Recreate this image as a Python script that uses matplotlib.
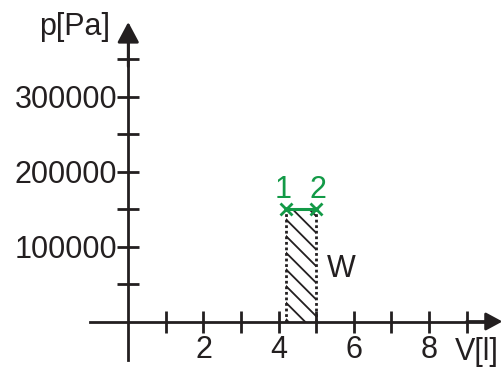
import matplotlib

matplotlib.use("Agg")

import matplotlib.pyplot as plt
from matplotlib.ticker import FixedFormatter, FixedLocator

# data
volume = [4.2, 5.0]  # V[l] of states 1 and 2
pressure = [150000, 150000]  # p[Pa]
state_labels = ["1", "2"]
x_ticks = [1, 2, 3, 4, 5, 6, 7, 8, 9]
x_tick_labels = ["", "2", "", "4", "", "6", "", "8", ""]
y_ticks = [50000, 100000, 150000, 200000, 250000, 300000, 350000]
y_tick_labels = ["", "100000", "", "200000", "", "300000", ""]

INK = "#231f20"
GREEN = "#139a47"
FS = 22

plt.rcParams["font.family"] = ["Liberation Sans", "DejaVu Sans"]
plt.rcParams["hatch.linewidth"] = 1.3

fig = plt.figure(figsize=(5.03, 3.71), dpi=100)
ax = fig.add_axes([0, 0, 1, 1])
ax.patch.set_visible(False)

# pixel-matched data window
ax.set_xlim(-3.41, 9.965)
ax.set_ylim(-66000, 428700)

for side in ("top", "right"):
    ax.spines[side].set_visible(False)
ax.spines["left"].set_position(("data", 0))
ax.spines["bottom"].set_position(("data", 0))
ax.spines["left"].set_bounds(-51300, 385000)
ax.spines["bottom"].set_bounds(-1.02, 9.6)
for side in ("left", "bottom"):
    ax.spines[side].set_linewidth(2.0)
    ax.spines[side].set_color(INK)

ax.xaxis.set_major_locator(FixedLocator(x_ticks))
ax.xaxis.set_major_formatter(FixedFormatter(x_tick_labels))
ax.yaxis.set_major_locator(FixedLocator(y_ticks))
ax.yaxis.set_major_formatter(FixedFormatter(y_tick_labels))
ax.tick_params(axis="both", direction="inout", length=16, width=2.0,
               colors=INK, labelsize=FS)
ax.tick_params(axis="x", pad=2)
ax.tick_params(axis="y", pad=0)

# arrow heads
arrow = dict(arrowstyle="-|>,head_length=0.5,head_width=0.27",
             color=INK, lw=2.0, mutation_scale=20, shrinkA=0, shrinkB=0)
ax.annotate("", xy=(9.95, 0), xytext=(9.0, 0), arrowprops=arrow)
arrow_y = dict(arrow, arrowstyle="-|>,head_length=0.62,head_width=0.33")
ax.annotate("", xy=(0, 399300), xytext=(0, 340000), arrowprops=arrow_y)

# work area under the isobaric process
ax.fill_between(volume, 0, pressure, facecolor="none", edgecolor=INK,
                hatch="\\\\", linewidth=0)
ax.vlines(volume, 0, pressure, colors=INK, linestyles=(0, (1, 1)), linewidth=2.0)
ax.plot(volume, pressure, color=GREEN, lw=2.2, marker="x", ms=8, mew=2.0)

for v, p, lab, dx in zip(volume, pressure, state_labels, [-2, 1]):
    ax.annotate(lab, (v, p), xytext=(dx, 8), textcoords="offset points",
                ha="center", va="baseline", fontsize=FS, color=GREEN)

ax.text(5.28, 59700, "W", fontsize=FS, color=INK, ha="left", va="baseline")
ax.text(-0.49, 382000, "p[Pa]", fontsize=FS, color=INK, ha="right", va="baseline")
ax.text(8.69, -51300, "V[l]", fontsize=FS, color=INK, ha="left", va="baseline")

fig.savefig("out.png", dpi=100)
